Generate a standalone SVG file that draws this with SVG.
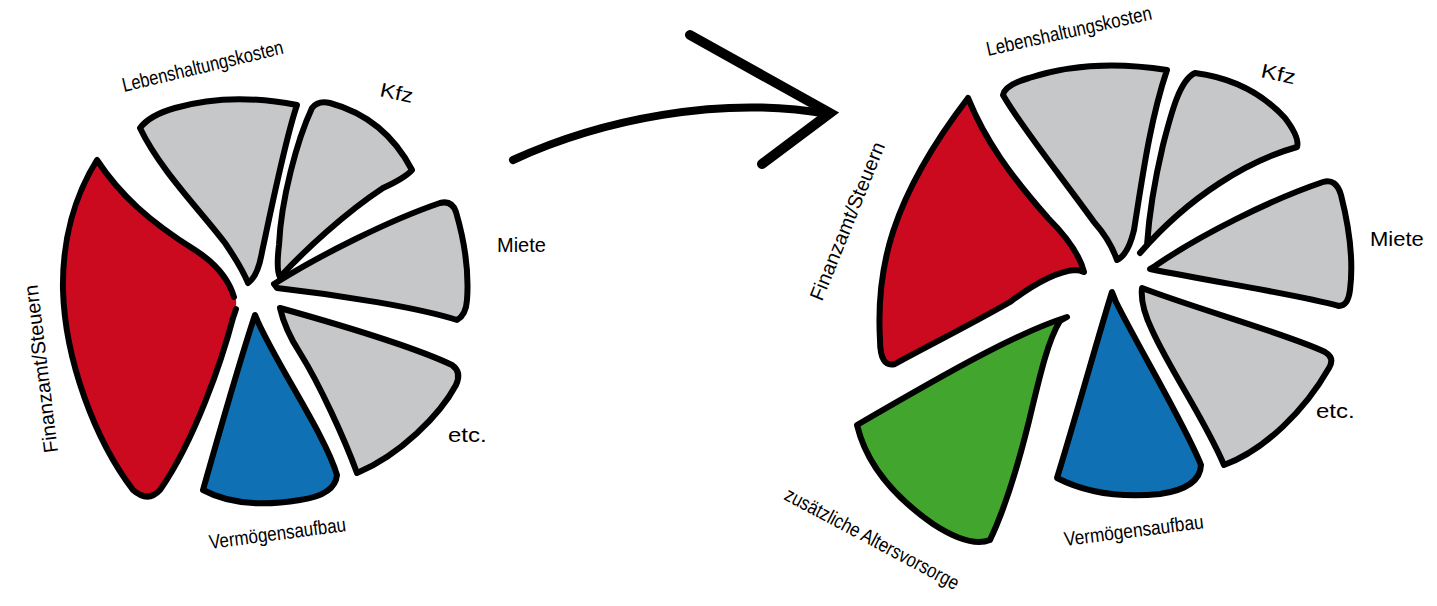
<svg xmlns="http://www.w3.org/2000/svg" width="1437" height="606" viewBox="0 0 1437 606">
<style>
.s{stroke:#000;stroke-width:6;stroke-linejoin:round;stroke-linecap:round}
.g{fill:#c6c7c9}
.r{fill:#cb0a20}
.b{fill:#0f71b4}
.gr{fill:#42a52e}
.t{font-family:"Liberation Sans",Arial,sans-serif;font-size:20px;fill:#000}
.a{fill:none;stroke:#000;stroke-linecap:round}
</style>
<rect width="1437" height="606" fill="#fff"/>
<g id="pie-before">
  <g id="l-lebenshaltung"><path class="s g" d="M140,128 Q150,115 175,108 Q230,92 297,105 C285,140 270,215 262,252 Q258,276 248,283 Q242,268 225,243 C200,210 160,170 140,128 Z"/></g>
  <g id="l-kfz"><path class="s g" d="M312,108 Q318,100 330,103 Q385,118 412,170 Q405,178 383,188 C345,213 305,250 280,277 Q276,270 279,245 C281,200 297,140 312,108 Z"/></g>
  <g id="l-miete"><path class="s g" d="M274,284 C320,255 390,220 440,203 Q452,200 456,212 Q470,260 467,300 Q466,315 457,320 C420,308 340,295 277,288 Z"/></g>
  <g id="l-etc"><path class="s g" d="M280,308 C330,322 410,345 452,365 Q462,372 456,385 C440,415 400,455 357,473 C345,440 320,385 300,353 Q285,330 280,308 Z"/></g>
  <g id="l-vermoegen"><path class="s b" d="M255,315 C240,360 220,430 203,490 Q240,510 300,500 Q335,495 337,475 C325,435 280,370 258,322 Z"/></g>
  <g id="l-finanzamt">
    <path class="r" d="M97,160 C120,195 150,222 195,250 Q230,272 236,300 Q237,308 233,318 C222,360 195,440 160,490 Q148,503 133,490 C95,440 65,360 63,290 C62,240 75,195 97,160 Z"/>
    <path class="s" fill="none" d="M234,297 Q226,270 195,250 C150,222 120,195 97,160 C75,195 62,240 63,290 C65,360 95,440 133,490 Q148,503 160,490 C195,440 222,360 233,318 Q235,312 236,309"/>
  </g>
</g>
<g id="arrow">
  <path class="a" stroke-width="8" d="M513,160 C600,120 720,95 828,114"/>
  <path class="a" stroke-width="10" stroke-linejoin="miter" d="M690,35 L830,113 L762,164"/>
</g>
<g id="pie-after">
  <g id="r-lebenshaltung"><path class="s g" d="M1003,95 Q1005,85 1029,78 Q1090,58 1167,70 C1150,120 1142,180 1134,230 Q1128,255 1117,260 Q1110,240 1094,222 C1060,175 1020,125 1003,95 Z"/></g>
  <g id="r-kfz"><path class="s g" d="M1147,245 Q1150,200 1163,145 C1172,110 1180,80 1195,73 Q1250,80 1285,118 Q1300,138 1297,147 C1250,160 1190,195 1140,253 Z"/></g>
  <g id="r-miete"><path class="s g" d="M1155,266 C1200,235 1270,200 1323,182 Q1336,178 1341,195 Q1355,250 1350,290 Q1348,306 1339,306 C1300,295 1220,283 1150,269 Z"/></g>
  <g id="r-etc"><path class="s g" d="M1142,288 C1200,310 1290,335 1325,352 Q1335,358 1329,368 C1305,410 1265,450 1224,465 C1205,420 1170,370 1152,330 Q1140,305 1142,288 Z"/></g>
  <g id="r-vermoegen"><path class="s b" d="M1112,292 C1100,330 1075,420 1057,478 Q1100,500 1160,494 Q1200,488 1201,465 C1185,425 1140,350 1116,302 Z"/></g>
  <g id="r-altersvorsorge"><path class="s gr" d="M1067,317 C1020,332 960,365 857,425 Q870,480 933,524 Q970,548 990,540 Q1010,498 1029,421 C1040,375 1048,340 1060,321 Z"/></g>
  <g id="r-finanzamt"><path class="s r" d="M968,98 C985,140 1010,175 1048,218 Q1078,248 1084,272 Q1080,270 1075,270 Q1050,272 1010,302 C970,325 920,350 895,364 Q880,368 880,340 C876,270 890,200 968,98 Z"/></g>
</g>
<g id="labels">
  <text class="t" transform="translate(124,92) rotate(-13.5) scale(0.825,1)">Lebenshaltungskosten</text>
  <text class="t" transform="translate(379,96) rotate(12) scale(1.15,1)">Kfz</text>
  <text class="t" transform="translate(497,252)">Miete</text>
  <text class="t" transform="translate(448,442) scale(1.2,1)">etc.</text>
  <text class="t" transform="translate(210,549) rotate(-7.5) scale(0.85,1)">Vermögensaufbau</text>
  <text class="t" transform="translate(58,452) rotate(-97)">Finanzamt/Steuern</text>
  <text class="t" transform="translate(988,56) rotate(-12.6) scale(0.845,1)">Lebenshaltungskosten</text>
  <text class="t" transform="translate(1260,77) rotate(12) scale(1.2,1)">Kfz</text>
  <text class="t" transform="translate(1370,246) scale(1.1,1)">Miete</text>
  <text class="t" transform="translate(1316,418) scale(1.2,1)">etc.</text>
  <text class="t" transform="translate(1065,546) rotate(-7.3) scale(0.865,1)">Vermögensaufbau</text>
  <text class="t" transform="translate(822,302) rotate(-68)">Finanzamt/Steuern</text>
  <text class="t" transform="translate(783,499) rotate(28) scale(0.837,1)">zusätzliche Altersvorsorge</text>
</g>
</svg>
